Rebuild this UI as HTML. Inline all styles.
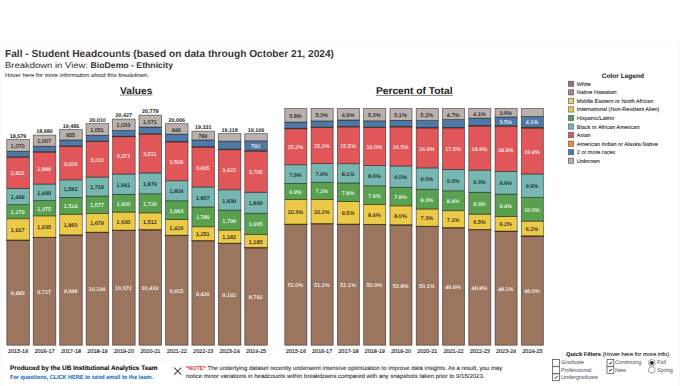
<!DOCTYPE html>
<html><head><meta charset="utf-8"><title>Fall - Student Headcounts</title>
<style>html,body{margin:0;padding:0;background:#fff;width:680px;height:386px;overflow:hidden}
svg text{font-family:"Liberation Sans", sans-serif;text-rendering:geometricPrecision}</style></head>
<body>
<svg width="680" height="386" viewBox="0 0 680 386" style="display:block">
<rect width="680" height="386" fill="#fff"/>
<path d="M0.5 386V42.5H679.5V386" fill="none" stroke="#f9f9f9" stroke-width="1"/>
<path d="M4.5 386V360.5H165" fill="none" stroke="#fafafa" stroke-width="1"/>
<text x="5.00" y="57.00" font-size="10.2" fill="#383838" font-weight="bold" text-anchor="start" textLength="329.00" lengthAdjust="spacingAndGlyphs">Fall - Student Headcounts (based on data through October 21, 2024)</text>
<text x="5.00" y="68.10" font-size="8.2" fill="#3a3a3a" font-weight="normal" text-anchor="start" textLength="83.00" lengthAdjust="spacingAndGlyphs" stroke="#3a3a3a" stroke-width="0.05">Breakdown in View:</text>
<text x="90.60" y="68.10" font-size="8.4" fill="#333" font-weight="bold" text-anchor="start" textLength="82.40" lengthAdjust="spacingAndGlyphs">BioDemo - Ethnicity</text>
<text x="5.00" y="77.00" font-size="5.6" fill="#3c3c3c" font-weight="normal" text-anchor="start" textLength="144.00" lengthAdjust="spacingAndGlyphs" stroke="#3c3c3c" stroke-width="0.08">Hover here for more information about this breakdown.</text>
<text x="120.10" y="93.70" font-size="10" fill="#222" font-weight="bold" text-anchor="start" textLength="32.30" lengthAdjust="spacingAndGlyphs">Values</text>
<rect x="120" y="94.6" width="32.5" height="0.9" fill="#777"/>
<text x="375.90" y="93.90" font-size="10" fill="#222" font-weight="bold" text-anchor="start" textLength="76.70" lengthAdjust="spacingAndGlyphs">Percent of Total</text>
<rect x="375.8" y="94.9" width="77" height="0.9" fill="#777"/>
<rect x="6.80" y="240.20" width="22.6" height="105.00" fill="#9C755F" stroke="rgba(20,20,20,0.62)" stroke-width="0.75"/>
<rect x="6.80" y="240.12" width="22.6" height="0.09" fill="#B07AA1" stroke="rgba(20,20,20,0.62)" stroke-width="0.75"/>
<rect x="6.80" y="239.98" width="22.6" height="0.13" fill="#F1CE63" stroke="rgba(20,20,20,0.62)" stroke-width="0.75"/>
<rect x="6.80" y="218.76" width="22.6" height="21.23" fill="#EDC948" stroke="rgba(20,20,20,0.62)" stroke-width="0.75"/>
<rect x="6.80" y="204.66" width="22.6" height="14.09" fill="#59A14F" stroke="rgba(20,20,20,0.62)" stroke-width="0.75"/>
<rect x="6.80" y="188.40" width="22.6" height="16.26" fill="#76B7B2" stroke="rgba(20,20,20,0.62)" stroke-width="0.75"/>
<rect x="6.80" y="157.16" width="22.6" height="31.23" fill="#E15759" stroke="rgba(20,20,20,0.62)" stroke-width="0.75"/>
<rect x="6.80" y="156.78" width="22.6" height="0.39" fill="#F28E2B" stroke="rgba(20,20,20,0.62)" stroke-width="0.75"/>
<rect x="6.80" y="151.34" width="22.6" height="5.44" fill="#4E79A7" stroke="rgba(20,20,20,0.62)" stroke-width="0.75"/>
<rect x="6.80" y="139.49" width="22.6" height="11.85" fill="#BAB0AC" stroke="rgba(20,20,20,0.62)" stroke-width="0.75"/>
<text x="17.70" y="295.30" font-size="5.5" fill="#fff" font-weight="normal" text-anchor="middle" stroke="#fff" stroke-width="0.06">9,483</text>
<text x="17.70" y="231.97" font-size="5.5" fill="#1a1a1a" font-weight="normal" text-anchor="middle" stroke="#1a1a1a" stroke-width="0.1">1,917</text>
<text x="17.70" y="214.31" font-size="5.5" fill="#fff" font-weight="normal" text-anchor="middle" stroke="#fff" stroke-width="0.06">1,273</text>
<text x="17.70" y="199.13" font-size="5.5" fill="#1a1a1a" font-weight="normal" text-anchor="middle" stroke="#1a1a1a" stroke-width="0.1">1,469</text>
<text x="17.70" y="175.38" font-size="5.5" fill="#fff" font-weight="normal" text-anchor="middle" stroke="#fff" stroke-width="0.06">2,821</text>
<text x="17.70" y="148.02" font-size="5.5" fill="#1a1a1a" font-weight="normal" text-anchor="middle" stroke="#1a1a1a" stroke-width="0.1">1,070</text>
<text x="18.10" y="137.69" font-size="5.4" fill="#222" font-weight="bold" text-anchor="middle">18,579</text>
<text x="18.10" y="353.20" font-size="5.5" fill="#222" font-weight="normal" text-anchor="middle" stroke="#222" stroke-width="0.15">2015-16</text>
<rect x="33.24" y="237.50" width="22.6" height="107.70" fill="#9C755F" stroke="rgba(20,20,20,0.62)" stroke-width="0.75"/>
<rect x="33.24" y="237.41" width="22.6" height="0.09" fill="#B07AA1" stroke="rgba(20,20,20,0.62)" stroke-width="0.75"/>
<rect x="33.24" y="237.28" width="22.6" height="0.13" fill="#F1CE63" stroke="rgba(20,20,20,0.62)" stroke-width="0.75"/>
<rect x="33.24" y="215.86" width="22.6" height="21.42" fill="#EDC948" stroke="rgba(20,20,20,0.62)" stroke-width="0.75"/>
<rect x="33.24" y="200.63" width="22.6" height="15.22" fill="#59A14F" stroke="rgba(20,20,20,0.62)" stroke-width="0.75"/>
<rect x="33.24" y="184.04" width="22.6" height="16.60" fill="#76B7B2" stroke="rgba(20,20,20,0.62)" stroke-width="0.75"/>
<rect x="33.24" y="152.06" width="22.6" height="31.98" fill="#E15759" stroke="rgba(20,20,20,0.62)" stroke-width="0.75"/>
<rect x="33.24" y="151.67" width="22.6" height="0.39" fill="#F28E2B" stroke="rgba(20,20,20,0.62)" stroke-width="0.75"/>
<rect x="33.24" y="146.20" width="22.6" height="5.47" fill="#4E79A7" stroke="rgba(20,20,20,0.62)" stroke-width="0.75"/>
<rect x="33.24" y="135.05" width="22.6" height="11.15" fill="#BAB0AC" stroke="rgba(20,20,20,0.62)" stroke-width="0.75"/>
<text x="44.14" y="293.95" font-size="5.5" fill="#fff" font-weight="normal" text-anchor="middle" stroke="#fff" stroke-width="0.06">9,727</text>
<text x="44.14" y="229.17" font-size="5.5" fill="#1a1a1a" font-weight="normal" text-anchor="middle" stroke="#1a1a1a" stroke-width="0.1">1,935</text>
<text x="44.14" y="210.84" font-size="5.5" fill="#fff" font-weight="normal" text-anchor="middle" stroke="#fff" stroke-width="0.06">1,375</text>
<text x="44.14" y="194.93" font-size="5.5" fill="#1a1a1a" font-weight="normal" text-anchor="middle" stroke="#1a1a1a" stroke-width="0.1">1,499</text>
<text x="44.14" y="170.65" font-size="5.5" fill="#fff" font-weight="normal" text-anchor="middle" stroke="#fff" stroke-width="0.06">2,888</text>
<text x="44.14" y="143.23" font-size="5.5" fill="#1a1a1a" font-weight="normal" text-anchor="middle" stroke="#1a1a1a" stroke-width="0.1">1,007</text>
<text x="44.54" y="133.25" font-size="5.4" fill="#222" font-weight="bold" text-anchor="middle">18,980</text>
<text x="44.54" y="353.20" font-size="5.5" fill="#222" font-weight="normal" text-anchor="middle" stroke="#222" stroke-width="0.15">2016-17</text>
<rect x="59.68" y="235.06" width="22.6" height="110.14" fill="#9C755F" stroke="rgba(20,20,20,0.62)" stroke-width="0.75"/>
<rect x="59.68" y="234.97" width="22.6" height="0.09" fill="#B07AA1" stroke="rgba(20,20,20,0.62)" stroke-width="0.75"/>
<rect x="59.68" y="234.83" width="22.6" height="0.13" fill="#F1CE63" stroke="rgba(20,20,20,0.62)" stroke-width="0.75"/>
<rect x="59.68" y="214.24" width="22.6" height="20.59" fill="#EDC948" stroke="rgba(20,20,20,0.62)" stroke-width="0.75"/>
<rect x="59.68" y="197.37" width="22.6" height="16.87" fill="#59A14F" stroke="rgba(20,20,20,0.62)" stroke-width="0.75"/>
<rect x="59.68" y="179.85" width="22.6" height="17.52" fill="#76B7B2" stroke="rgba(20,20,20,0.62)" stroke-width="0.75"/>
<rect x="59.68" y="146.31" width="22.6" height="33.54" fill="#E15759" stroke="rgba(20,20,20,0.62)" stroke-width="0.75"/>
<rect x="59.68" y="145.93" width="22.6" height="0.39" fill="#F28E2B" stroke="rgba(20,20,20,0.62)" stroke-width="0.75"/>
<rect x="59.68" y="140.04" width="22.6" height="5.89" fill="#4E79A7" stroke="rgba(20,20,20,0.62)" stroke-width="0.75"/>
<rect x="59.68" y="129.46" width="22.6" height="10.57" fill="#BAB0AC" stroke="rgba(20,20,20,0.62)" stroke-width="0.75"/>
<text x="70.58" y="292.73" font-size="5.5" fill="#fff" font-weight="normal" text-anchor="middle" stroke="#fff" stroke-width="0.06">9,948</text>
<text x="70.58" y="227.14" font-size="5.5" fill="#1a1a1a" font-weight="normal" text-anchor="middle" stroke="#1a1a1a" stroke-width="0.1">1,860</text>
<text x="70.58" y="208.40" font-size="5.5" fill="#fff" font-weight="normal" text-anchor="middle" stroke="#fff" stroke-width="0.06">1,524</text>
<text x="70.58" y="191.21" font-size="5.5" fill="#1a1a1a" font-weight="normal" text-anchor="middle" stroke="#1a1a1a" stroke-width="0.1">1,582</text>
<text x="70.58" y="165.68" font-size="5.5" fill="#fff" font-weight="normal" text-anchor="middle" stroke="#fff" stroke-width="0.06">3,029</text>
<text x="70.58" y="137.35" font-size="5.5" fill="#1a1a1a" font-weight="normal" text-anchor="middle" stroke="#1a1a1a" stroke-width="0.1">955</text>
<text x="70.98" y="127.66" font-size="5.4" fill="#222" font-weight="bold" text-anchor="middle">19,485</text>
<text x="70.98" y="353.20" font-size="5.5" fill="#222" font-weight="normal" text-anchor="middle" stroke="#222" stroke-width="0.15">2017-18</text>
<rect x="86.12" y="232.33" width="22.6" height="112.87" fill="#9C755F" stroke="rgba(20,20,20,0.62)" stroke-width="0.75"/>
<rect x="86.12" y="232.24" width="22.6" height="0.09" fill="#B07AA1" stroke="rgba(20,20,20,0.62)" stroke-width="0.75"/>
<rect x="86.12" y="232.11" width="22.6" height="0.13" fill="#F1CE63" stroke="rgba(20,20,20,0.62)" stroke-width="0.75"/>
<rect x="86.12" y="213.52" width="22.6" height="18.59" fill="#EDC948" stroke="rgba(20,20,20,0.62)" stroke-width="0.75"/>
<rect x="86.12" y="196.06" width="22.6" height="17.46" fill="#59A14F" stroke="rgba(20,20,20,0.62)" stroke-width="0.75"/>
<rect x="86.12" y="177.04" width="22.6" height="19.02" fill="#76B7B2" stroke="rgba(20,20,20,0.62)" stroke-width="0.75"/>
<rect x="86.12" y="141.50" width="22.6" height="35.54" fill="#E15759" stroke="rgba(20,20,20,0.62)" stroke-width="0.75"/>
<rect x="86.12" y="141.11" width="22.6" height="0.39" fill="#F28E2B" stroke="rgba(20,20,20,0.62)" stroke-width="0.75"/>
<rect x="86.12" y="135.29" width="22.6" height="5.82" fill="#4E79A7" stroke="rgba(20,20,20,0.62)" stroke-width="0.75"/>
<rect x="86.12" y="123.65" width="22.6" height="11.64" fill="#BAB0AC" stroke="rgba(20,20,20,0.62)" stroke-width="0.75"/>
<text x="97.02" y="291.37" font-size="5.5" fill="#fff" font-weight="normal" text-anchor="middle" stroke="#fff" stroke-width="0.06">10,194</text>
<text x="97.02" y="225.42" font-size="5.5" fill="#1a1a1a" font-weight="normal" text-anchor="middle" stroke="#1a1a1a" stroke-width="0.1">1,679</text>
<text x="97.02" y="207.39" font-size="5.5" fill="#fff" font-weight="normal" text-anchor="middle" stroke="#fff" stroke-width="0.06">1,577</text>
<text x="97.02" y="189.15" font-size="5.5" fill="#1a1a1a" font-weight="normal" text-anchor="middle" stroke="#1a1a1a" stroke-width="0.1">1,718</text>
<text x="97.02" y="161.87" font-size="5.5" fill="#fff" font-weight="normal" text-anchor="middle" stroke="#fff" stroke-width="0.06">3,210</text>
<text x="97.02" y="132.07" font-size="5.5" fill="#1a1a1a" font-weight="normal" text-anchor="middle" stroke="#1a1a1a" stroke-width="0.1">1,051</text>
<text x="97.42" y="121.85" font-size="5.4" fill="#222" font-weight="bold" text-anchor="middle">20,010</text>
<text x="97.42" y="353.20" font-size="5.5" fill="#222" font-weight="normal" text-anchor="middle" stroke="#222" stroke-width="0.15">2018-19</text>
<rect x="112.56" y="230.36" width="22.6" height="114.84" fill="#9C755F" stroke="rgba(20,20,20,0.62)" stroke-width="0.75"/>
<rect x="112.56" y="230.27" width="22.6" height="0.09" fill="#B07AA1" stroke="rgba(20,20,20,0.62)" stroke-width="0.75"/>
<rect x="112.56" y="230.14" width="22.6" height="0.13" fill="#F1CE63" stroke="rgba(20,20,20,0.62)" stroke-width="0.75"/>
<rect x="112.56" y="212.09" width="22.6" height="18.05" fill="#EDC948" stroke="rgba(20,20,20,0.62)" stroke-width="0.75"/>
<rect x="112.56" y="194.38" width="22.6" height="17.72" fill="#59A14F" stroke="rgba(20,20,20,0.62)" stroke-width="0.75"/>
<rect x="112.56" y="173.99" width="22.6" height="20.38" fill="#76B7B2" stroke="rgba(20,20,20,0.62)" stroke-width="0.75"/>
<rect x="112.56" y="136.67" width="22.6" height="37.32" fill="#E15759" stroke="rgba(20,20,20,0.62)" stroke-width="0.75"/>
<rect x="112.56" y="136.28" width="22.6" height="0.39" fill="#F28E2B" stroke="rgba(20,20,20,0.62)" stroke-width="0.75"/>
<rect x="112.56" y="130.47" width="22.6" height="5.81" fill="#4E79A7" stroke="rgba(20,20,20,0.62)" stroke-width="0.75"/>
<rect x="112.56" y="119.03" width="22.6" height="11.44" fill="#BAB0AC" stroke="rgba(20,20,20,0.62)" stroke-width="0.75"/>
<text x="123.46" y="290.38" font-size="5.5" fill="#fff" font-weight="normal" text-anchor="middle" stroke="#fff" stroke-width="0.06">10,372</text>
<text x="123.46" y="223.72" font-size="5.5" fill="#1a1a1a" font-weight="normal" text-anchor="middle" stroke="#1a1a1a" stroke-width="0.1">1,630</text>
<text x="123.46" y="205.83" font-size="5.5" fill="#fff" font-weight="normal" text-anchor="middle" stroke="#fff" stroke-width="0.06">1,600</text>
<text x="123.46" y="186.79" font-size="5.5" fill="#1a1a1a" font-weight="normal" text-anchor="middle" stroke="#1a1a1a" stroke-width="0.1">1,841</text>
<text x="123.46" y="157.93" font-size="5.5" fill="#fff" font-weight="normal" text-anchor="middle" stroke="#fff" stroke-width="0.06">3,371</text>
<text x="123.46" y="127.35" font-size="5.5" fill="#1a1a1a" font-weight="normal" text-anchor="middle" stroke="#1a1a1a" stroke-width="0.1">1,033</text>
<text x="123.86" y="117.23" font-size="5.4" fill="#222" font-weight="bold" text-anchor="middle">20,427</text>
<text x="123.86" y="353.20" font-size="5.5" fill="#222" font-weight="normal" text-anchor="middle" stroke="#222" stroke-width="0.15">2019-20</text>
<rect x="139.00" y="229.84" width="22.6" height="115.36" fill="#9C755F" stroke="rgba(20,20,20,0.62)" stroke-width="0.75"/>
<rect x="139.00" y="229.75" width="22.6" height="0.09" fill="#B07AA1" stroke="rgba(20,20,20,0.62)" stroke-width="0.75"/>
<rect x="139.00" y="229.62" width="22.6" height="0.13" fill="#F1CE63" stroke="rgba(20,20,20,0.62)" stroke-width="0.75"/>
<rect x="139.00" y="212.88" width="22.6" height="16.74" fill="#EDC948" stroke="rgba(20,20,20,0.62)" stroke-width="0.75"/>
<rect x="139.00" y="193.77" width="22.6" height="19.11" fill="#59A14F" stroke="rgba(20,20,20,0.62)" stroke-width="0.75"/>
<rect x="139.00" y="172.96" width="22.6" height="20.80" fill="#76B7B2" stroke="rgba(20,20,20,0.62)" stroke-width="0.75"/>
<rect x="139.00" y="134.09" width="22.6" height="38.87" fill="#E15759" stroke="rgba(20,20,20,0.62)" stroke-width="0.75"/>
<rect x="139.00" y="133.70" width="22.6" height="0.39" fill="#F28E2B" stroke="rgba(20,20,20,0.62)" stroke-width="0.75"/>
<rect x="139.00" y="127.00" width="22.6" height="6.70" fill="#4E79A7" stroke="rgba(20,20,20,0.62)" stroke-width="0.75"/>
<rect x="139.00" y="115.15" width="22.6" height="11.86" fill="#BAB0AC" stroke="rgba(20,20,20,0.62)" stroke-width="0.75"/>
<text x="149.90" y="290.12" font-size="5.5" fill="#fff" font-weight="normal" text-anchor="middle" stroke="#fff" stroke-width="0.06">10,419</text>
<text x="149.90" y="223.85" font-size="5.5" fill="#1a1a1a" font-weight="normal" text-anchor="middle" stroke="#1a1a1a" stroke-width="0.1">1,512</text>
<text x="149.90" y="205.92" font-size="5.5" fill="#fff" font-weight="normal" text-anchor="middle" stroke="#fff" stroke-width="0.06">1,726</text>
<text x="149.90" y="185.97" font-size="5.5" fill="#1a1a1a" font-weight="normal" text-anchor="middle" stroke="#1a1a1a" stroke-width="0.1">1,879</text>
<text x="149.90" y="156.13" font-size="5.5" fill="#fff" font-weight="normal" text-anchor="middle" stroke="#fff" stroke-width="0.06">3,511</text>
<text x="149.90" y="123.68" font-size="5.5" fill="#1a1a1a" font-weight="normal" text-anchor="middle" stroke="#1a1a1a" stroke-width="0.1">1,071</text>
<text x="150.30" y="113.35" font-size="5.4" fill="#222" font-weight="bold" text-anchor="middle">20,778</text>
<text x="150.30" y="353.20" font-size="5.5" fill="#222" font-weight="normal" text-anchor="middle" stroke="#222" stroke-width="0.15">2020-21</text>
<rect x="165.44" y="235.42" width="22.6" height="109.78" fill="#9C755F" stroke="rgba(20,20,20,0.62)" stroke-width="0.75"/>
<rect x="165.44" y="235.33" width="22.6" height="0.09" fill="#B07AA1" stroke="rgba(20,20,20,0.62)" stroke-width="0.75"/>
<rect x="165.44" y="235.20" width="22.6" height="0.13" fill="#F1CE63" stroke="rgba(20,20,20,0.62)" stroke-width="0.75"/>
<rect x="165.44" y="219.41" width="22.6" height="15.79" fill="#EDC948" stroke="rgba(20,20,20,0.62)" stroke-width="0.75"/>
<rect x="165.44" y="200.78" width="22.6" height="18.63" fill="#59A14F" stroke="rgba(20,20,20,0.62)" stroke-width="0.75"/>
<rect x="165.44" y="180.75" width="22.6" height="20.03" fill="#76B7B2" stroke="rgba(20,20,20,0.62)" stroke-width="0.75"/>
<rect x="165.44" y="141.91" width="22.6" height="38.84" fill="#E15759" stroke="rgba(20,20,20,0.62)" stroke-width="0.75"/>
<rect x="165.44" y="141.52" width="22.6" height="0.39" fill="#F28E2B" stroke="rgba(20,20,20,0.62)" stroke-width="0.75"/>
<rect x="165.44" y="134.17" width="22.6" height="7.35" fill="#4E79A7" stroke="rgba(20,20,20,0.62)" stroke-width="0.75"/>
<rect x="165.44" y="123.69" width="22.6" height="10.47" fill="#BAB0AC" stroke="rgba(20,20,20,0.62)" stroke-width="0.75"/>
<text x="176.34" y="292.91" font-size="5.5" fill="#fff" font-weight="normal" text-anchor="middle" stroke="#fff" stroke-width="0.06">9,915</text>
<text x="176.34" y="229.91" font-size="5.5" fill="#1a1a1a" font-weight="normal" text-anchor="middle" stroke="#1a1a1a" stroke-width="0.1">1,426</text>
<text x="176.34" y="212.69" font-size="5.5" fill="#fff" font-weight="normal" text-anchor="middle" stroke="#fff" stroke-width="0.06">1,683</text>
<text x="176.34" y="193.36" font-size="5.5" fill="#1a1a1a" font-weight="normal" text-anchor="middle" stroke="#1a1a1a" stroke-width="0.1">1,809</text>
<text x="176.34" y="163.93" font-size="5.5" fill="#fff" font-weight="normal" text-anchor="middle" stroke="#fff" stroke-width="0.06">3,508</text>
<text x="176.34" y="131.53" font-size="5.5" fill="#1a1a1a" font-weight="normal" text-anchor="middle" stroke="#1a1a1a" stroke-width="0.1">946</text>
<text x="176.74" y="121.89" font-size="5.4" fill="#222" font-weight="bold" text-anchor="middle">20,006</text>
<text x="176.74" y="353.20" font-size="5.5" fill="#222" font-weight="normal" text-anchor="middle" stroke="#222" stroke-width="0.15">2021-22</text>
<rect x="191.88" y="240.84" width="22.6" height="104.36" fill="#9C755F" stroke="rgba(20,20,20,0.62)" stroke-width="0.75"/>
<rect x="191.88" y="240.75" width="22.6" height="0.09" fill="#B07AA1" stroke="rgba(20,20,20,0.62)" stroke-width="0.75"/>
<rect x="191.88" y="240.61" width="22.6" height="0.13" fill="#F1CE63" stroke="rgba(20,20,20,0.62)" stroke-width="0.75"/>
<rect x="191.88" y="226.76" width="22.6" height="13.85" fill="#EDC948" stroke="rgba(20,20,20,0.62)" stroke-width="0.75"/>
<rect x="191.88" y="206.96" width="22.6" height="19.81" fill="#59A14F" stroke="rgba(20,20,20,0.62)" stroke-width="0.75"/>
<rect x="191.88" y="186.95" width="22.6" height="20.01" fill="#76B7B2" stroke="rgba(20,20,20,0.62)" stroke-width="0.75"/>
<rect x="191.88" y="147.03" width="22.6" height="39.91" fill="#E15759" stroke="rgba(20,20,20,0.62)" stroke-width="0.75"/>
<rect x="191.88" y="146.65" width="22.6" height="0.39" fill="#F28E2B" stroke="rgba(20,20,20,0.62)" stroke-width="0.75"/>
<rect x="191.88" y="139.90" width="22.6" height="6.74" fill="#4E79A7" stroke="rgba(20,20,20,0.62)" stroke-width="0.75"/>
<rect x="191.88" y="131.17" width="22.6" height="8.74" fill="#BAB0AC" stroke="rgba(20,20,20,0.62)" stroke-width="0.75"/>
<text x="202.78" y="295.62" font-size="5.5" fill="#fff" font-weight="normal" text-anchor="middle" stroke="#fff" stroke-width="0.06">9,426</text>
<text x="202.78" y="236.29" font-size="5.5" fill="#1a1a1a" font-weight="normal" text-anchor="middle" stroke="#1a1a1a" stroke-width="0.1">1,251</text>
<text x="202.78" y="219.46" font-size="5.5" fill="#fff" font-weight="normal" text-anchor="middle" stroke="#fff" stroke-width="0.06">1,789</text>
<text x="202.78" y="199.55" font-size="5.5" fill="#1a1a1a" font-weight="normal" text-anchor="middle" stroke="#1a1a1a" stroke-width="0.1">1,807</text>
<text x="202.78" y="169.59" font-size="5.5" fill="#fff" font-weight="normal" text-anchor="middle" stroke="#fff" stroke-width="0.06">3,605</text>
<text x="202.78" y="138.14" font-size="5.5" fill="#1a1a1a" font-weight="normal" text-anchor="middle" stroke="#1a1a1a" stroke-width="0.1">789</text>
<text x="203.18" y="129.37" font-size="5.4" fill="#222" font-weight="bold" text-anchor="middle">19,331</text>
<text x="203.18" y="353.20" font-size="5.5" fill="#222" font-weight="normal" text-anchor="middle" stroke="#222" stroke-width="0.15">2022-23</text>
<rect x="218.32" y="243.43" width="22.6" height="101.77" fill="#9C755F" stroke="rgba(20,20,20,0.62)" stroke-width="0.75"/>
<rect x="218.32" y="243.31" width="22.6" height="0.11" fill="#B07AA1" stroke="rgba(20,20,20,0.62)" stroke-width="0.75"/>
<rect x="218.32" y="243.14" width="22.6" height="0.17" fill="#F1CE63" stroke="rgba(20,20,20,0.62)" stroke-width="0.75"/>
<rect x="218.32" y="230.06" width="22.6" height="13.09" fill="#EDC948" stroke="rgba(20,20,20,0.62)" stroke-width="0.75"/>
<rect x="218.32" y="210.14" width="22.6" height="19.92" fill="#59A14F" stroke="rgba(20,20,20,0.62)" stroke-width="0.75"/>
<rect x="218.32" y="189.78" width="22.6" height="20.36" fill="#76B7B2" stroke="rgba(20,20,20,0.62)" stroke-width="0.75"/>
<rect x="218.32" y="149.68" width="22.6" height="40.10" fill="#E15759" stroke="rgba(20,20,20,0.62)" stroke-width="0.75"/>
<rect x="218.32" y="149.18" width="22.6" height="0.49" fill="#F28E2B" stroke="rgba(20,20,20,0.62)" stroke-width="0.75"/>
<rect x="218.32" y="141.14" width="22.6" height="8.04" fill="#4E79A7" stroke="rgba(20,20,20,0.62)" stroke-width="0.75"/>
<rect x="218.32" y="133.53" width="22.6" height="7.62" fill="#BAB0AC" stroke="rgba(20,20,20,0.62)" stroke-width="0.75"/>
<text x="229.22" y="296.91" font-size="5.5" fill="#fff" font-weight="normal" text-anchor="middle" stroke="#fff" stroke-width="0.06">9,192</text>
<text x="229.22" y="239.20" font-size="5.5" fill="#1a1a1a" font-weight="normal" text-anchor="middle" stroke="#1a1a1a" stroke-width="0.1">1,182</text>
<text x="229.22" y="222.70" font-size="5.5" fill="#fff" font-weight="normal" text-anchor="middle" stroke="#fff" stroke-width="0.06">1,799</text>
<text x="229.22" y="202.56" font-size="5.5" fill="#1a1a1a" font-weight="normal" text-anchor="middle" stroke="#1a1a1a" stroke-width="0.1">1,839</text>
<text x="229.22" y="172.33" font-size="5.5" fill="#fff" font-weight="normal" text-anchor="middle" stroke="#fff" stroke-width="0.06">3,622</text>
<text x="229.62" y="131.73" font-size="5.4" fill="#222" font-weight="bold" text-anchor="middle">19,118</text>
<text x="229.62" y="353.20" font-size="5.5" fill="#222" font-weight="normal" text-anchor="middle" stroke="#222" stroke-width="0.15">2023-24</text>
<rect x="244.76" y="247.85" width="22.6" height="97.35" fill="#9C755F" stroke="rgba(20,20,20,0.62)" stroke-width="0.75"/>
<rect x="244.76" y="247.70" width="22.6" height="0.16" fill="#B07AA1" stroke="rgba(20,20,20,0.62)" stroke-width="0.75"/>
<rect x="244.76" y="247.46" width="22.6" height="0.24" fill="#F1CE63" stroke="rgba(20,20,20,0.62)" stroke-width="0.75"/>
<rect x="244.76" y="234.34" width="22.6" height="13.12" fill="#EDC948" stroke="rgba(20,20,20,0.62)" stroke-width="0.75"/>
<rect x="244.76" y="213.25" width="22.6" height="21.09" fill="#59A14F" stroke="rgba(20,20,20,0.62)" stroke-width="0.75"/>
<rect x="244.76" y="192.22" width="22.6" height="21.03" fill="#76B7B2" stroke="rgba(20,20,20,0.62)" stroke-width="0.75"/>
<rect x="244.76" y="151.20" width="22.6" height="41.02" fill="#E15759" stroke="rgba(20,20,20,0.62)" stroke-width="0.75"/>
<rect x="244.76" y="150.51" width="22.6" height="0.69" fill="#F28E2B" stroke="rgba(20,20,20,0.62)" stroke-width="0.75"/>
<rect x="244.76" y="140.86" width="22.6" height="9.66" fill="#4E79A7" stroke="rgba(20,20,20,0.62)" stroke-width="0.75"/>
<rect x="244.76" y="133.66" width="22.6" height="7.20" fill="#BAB0AC" stroke="rgba(20,20,20,0.62)" stroke-width="0.75"/>
<text x="255.66" y="299.13" font-size="5.5" fill="#fff" font-weight="normal" text-anchor="middle" stroke="#fff" stroke-width="0.06">8,792</text>
<text x="255.66" y="243.50" font-size="5.5" fill="#1a1a1a" font-weight="normal" text-anchor="middle" stroke="#1a1a1a" stroke-width="0.1">1,185</text>
<text x="255.66" y="226.39" font-size="5.5" fill="#fff" font-weight="normal" text-anchor="middle" stroke="#fff" stroke-width="0.06">1,905</text>
<text x="255.66" y="205.34" font-size="5.5" fill="#1a1a1a" font-weight="normal" text-anchor="middle" stroke="#1a1a1a" stroke-width="0.1">1,899</text>
<text x="255.66" y="174.31" font-size="5.5" fill="#fff" font-weight="normal" text-anchor="middle" stroke="#fff" stroke-width="0.06">3,705</text>
<text x="255.66" y="148.28" font-size="5.5" fill="#fff" font-weight="normal" text-anchor="middle" stroke="#fff" stroke-width="0.06">792</text>
<text x="256.06" y="131.86" font-size="5.4" fill="#222" font-weight="bold" text-anchor="middle">19,106</text>
<text x="256.06" y="353.20" font-size="5.5" fill="#222" font-weight="normal" text-anchor="middle" stroke="#222" stroke-width="0.15">2024-25</text>
<rect x="284.80" y="224.33" width="22.1" height="120.87" fill="#9C755F" stroke="rgba(20,20,20,0.62)" stroke-width="0.75"/>
<rect x="284.80" y="224.23" width="22.1" height="0.10" fill="#B07AA1" stroke="rgba(20,20,20,0.62)" stroke-width="0.75"/>
<rect x="284.80" y="224.08" width="22.1" height="0.15" fill="#F1CE63" stroke="rgba(20,20,20,0.62)" stroke-width="0.75"/>
<rect x="284.80" y="199.65" width="22.1" height="24.43" fill="#EDC948" stroke="rgba(20,20,20,0.62)" stroke-width="0.75"/>
<rect x="284.80" y="183.42" width="22.1" height="16.23" fill="#59A14F" stroke="rgba(20,20,20,0.62)" stroke-width="0.75"/>
<rect x="284.80" y="164.70" width="22.1" height="18.72" fill="#76B7B2" stroke="rgba(20,20,20,0.62)" stroke-width="0.75"/>
<rect x="284.80" y="128.74" width="22.1" height="35.96" fill="#E15759" stroke="rgba(20,20,20,0.62)" stroke-width="0.75"/>
<rect x="284.80" y="128.30" width="22.1" height="0.45" fill="#F28E2B" stroke="rgba(20,20,20,0.62)" stroke-width="0.75"/>
<rect x="284.80" y="122.04" width="22.1" height="6.26" fill="#4E79A7" stroke="rgba(20,20,20,0.62)" stroke-width="0.75"/>
<rect x="284.80" y="108.40" width="22.1" height="13.64" fill="#BAB0AC" stroke="rgba(20,20,20,0.62)" stroke-width="0.75"/>
<text x="295.45" y="287.37" font-size="5.5" fill="#fff" font-weight="normal" text-anchor="middle" stroke="#fff" stroke-width="0.06">51.0%</text>
<text x="295.45" y="214.46" font-size="5.5" fill="#1a1a1a" font-weight="normal" text-anchor="middle" stroke="#1a1a1a" stroke-width="0.1">10.3%</text>
<text x="295.45" y="194.13" font-size="5.5" fill="#fff" font-weight="normal" text-anchor="middle" stroke="#fff" stroke-width="0.06">6.9%</text>
<text x="295.45" y="176.66" font-size="5.5" fill="#1a1a1a" font-weight="normal" text-anchor="middle" stroke="#1a1a1a" stroke-width="0.1">7.9%</text>
<text x="295.45" y="149.32" font-size="5.5" fill="#fff" font-weight="normal" text-anchor="middle" stroke="#fff" stroke-width="0.06">15.2%</text>
<text x="295.45" y="117.82" font-size="5.5" fill="#1a1a1a" font-weight="normal" text-anchor="middle" stroke="#1a1a1a" stroke-width="0.1">5.8%</text>
<text x="295.85" y="353.20" font-size="5.5" fill="#222" font-weight="normal" text-anchor="middle" stroke="#222" stroke-width="0.15">2015-16</text>
<rect x="311.08" y="223.84" width="22.1" height="121.36" fill="#9C755F" stroke="rgba(20,20,20,0.62)" stroke-width="0.75"/>
<rect x="311.08" y="223.74" width="22.1" height="0.10" fill="#B07AA1" stroke="rgba(20,20,20,0.62)" stroke-width="0.75"/>
<rect x="311.08" y="223.59" width="22.1" height="0.15" fill="#F1CE63" stroke="rgba(20,20,20,0.62)" stroke-width="0.75"/>
<rect x="311.08" y="199.45" width="22.1" height="24.14" fill="#EDC948" stroke="rgba(20,20,20,0.62)" stroke-width="0.75"/>
<rect x="311.08" y="182.30" width="22.1" height="17.15" fill="#59A14F" stroke="rgba(20,20,20,0.62)" stroke-width="0.75"/>
<rect x="311.08" y="163.60" width="22.1" height="18.70" fill="#76B7B2" stroke="rgba(20,20,20,0.62)" stroke-width="0.75"/>
<rect x="311.08" y="127.56" width="22.1" height="36.03" fill="#E15759" stroke="rgba(20,20,20,0.62)" stroke-width="0.75"/>
<rect x="311.08" y="127.13" width="22.1" height="0.44" fill="#F28E2B" stroke="rgba(20,20,20,0.62)" stroke-width="0.75"/>
<rect x="311.08" y="120.96" width="22.1" height="6.16" fill="#4E79A7" stroke="rgba(20,20,20,0.62)" stroke-width="0.75"/>
<rect x="311.08" y="108.40" width="22.1" height="12.56" fill="#BAB0AC" stroke="rgba(20,20,20,0.62)" stroke-width="0.75"/>
<text x="321.73" y="287.12" font-size="5.5" fill="#fff" font-weight="normal" text-anchor="middle" stroke="#fff" stroke-width="0.06">51.2%</text>
<text x="321.73" y="214.12" font-size="5.5" fill="#1a1a1a" font-weight="normal" text-anchor="middle" stroke="#1a1a1a" stroke-width="0.1">10.2%</text>
<text x="321.73" y="193.47" font-size="5.5" fill="#fff" font-weight="normal" text-anchor="middle" stroke="#fff" stroke-width="0.06">7.2%</text>
<text x="321.73" y="175.55" font-size="5.5" fill="#1a1a1a" font-weight="normal" text-anchor="middle" stroke="#1a1a1a" stroke-width="0.1">7.9%</text>
<text x="321.73" y="148.18" font-size="5.5" fill="#fff" font-weight="normal" text-anchor="middle" stroke="#fff" stroke-width="0.06">15.2%</text>
<text x="321.73" y="117.28" font-size="5.5" fill="#1a1a1a" font-weight="normal" text-anchor="middle" stroke="#1a1a1a" stroke-width="0.1">5.3%</text>
<text x="322.13" y="353.20" font-size="5.5" fill="#222" font-weight="normal" text-anchor="middle" stroke="#222" stroke-width="0.15">2016-17</text>
<rect x="337.36" y="224.30" width="22.1" height="120.90" fill="#9C755F" stroke="rgba(20,20,20,0.62)" stroke-width="0.75"/>
<rect x="337.36" y="224.21" width="22.1" height="0.10" fill="#B07AA1" stroke="rgba(20,20,20,0.62)" stroke-width="0.75"/>
<rect x="337.36" y="224.06" width="22.1" height="0.15" fill="#F1CE63" stroke="rgba(20,20,20,0.62)" stroke-width="0.75"/>
<rect x="337.36" y="201.46" width="22.1" height="22.60" fill="#EDC948" stroke="rgba(20,20,20,0.62)" stroke-width="0.75"/>
<rect x="337.36" y="182.93" width="22.1" height="18.52" fill="#59A14F" stroke="rgba(20,20,20,0.62)" stroke-width="0.75"/>
<rect x="337.36" y="163.71" width="22.1" height="19.23" fill="#76B7B2" stroke="rgba(20,20,20,0.62)" stroke-width="0.75"/>
<rect x="337.36" y="126.90" width="22.1" height="36.81" fill="#E15759" stroke="rgba(20,20,20,0.62)" stroke-width="0.75"/>
<rect x="337.36" y="126.47" width="22.1" height="0.43" fill="#F28E2B" stroke="rgba(20,20,20,0.62)" stroke-width="0.75"/>
<rect x="337.36" y="120.01" width="22.1" height="6.47" fill="#4E79A7" stroke="rgba(20,20,20,0.62)" stroke-width="0.75"/>
<rect x="337.36" y="108.40" width="22.1" height="11.61" fill="#BAB0AC" stroke="rgba(20,20,20,0.62)" stroke-width="0.75"/>
<text x="348.01" y="287.35" font-size="5.5" fill="#fff" font-weight="normal" text-anchor="middle" stroke="#fff" stroke-width="0.06">51.1%</text>
<text x="348.01" y="215.36" font-size="5.5" fill="#1a1a1a" font-weight="normal" text-anchor="middle" stroke="#1a1a1a" stroke-width="0.1">9.5%</text>
<text x="348.01" y="194.79" font-size="5.5" fill="#fff" font-weight="normal" text-anchor="middle" stroke="#fff" stroke-width="0.06">7.8%</text>
<text x="348.01" y="175.92" font-size="5.5" fill="#1a1a1a" font-weight="normal" text-anchor="middle" stroke="#1a1a1a" stroke-width="0.1">8.1%</text>
<text x="348.01" y="147.90" font-size="5.5" fill="#fff" font-weight="normal" text-anchor="middle" stroke="#fff" stroke-width="0.06">15.5%</text>
<text x="348.01" y="116.80" font-size="5.5" fill="#1a1a1a" font-weight="normal" text-anchor="middle" stroke="#1a1a1a" stroke-width="0.1">4.9%</text>
<text x="348.41" y="353.20" font-size="5.5" fill="#222" font-weight="normal" text-anchor="middle" stroke="#222" stroke-width="0.15">2017-18</text>
<rect x="363.64" y="224.56" width="22.1" height="120.64" fill="#9C755F" stroke="rgba(20,20,20,0.62)" stroke-width="0.75"/>
<rect x="363.64" y="224.47" width="22.1" height="0.09" fill="#B07AA1" stroke="rgba(20,20,20,0.62)" stroke-width="0.75"/>
<rect x="363.64" y="224.33" width="22.1" height="0.14" fill="#F1CE63" stroke="rgba(20,20,20,0.62)" stroke-width="0.75"/>
<rect x="363.64" y="204.46" width="22.1" height="19.87" fill="#EDC948" stroke="rgba(20,20,20,0.62)" stroke-width="0.75"/>
<rect x="363.64" y="185.79" width="22.1" height="18.66" fill="#59A14F" stroke="rgba(20,20,20,0.62)" stroke-width="0.75"/>
<rect x="363.64" y="165.46" width="22.1" height="20.33" fill="#76B7B2" stroke="rgba(20,20,20,0.62)" stroke-width="0.75"/>
<rect x="363.64" y="127.48" width="22.1" height="37.99" fill="#E15759" stroke="rgba(20,20,20,0.62)" stroke-width="0.75"/>
<rect x="363.64" y="127.06" width="22.1" height="0.41" fill="#F28E2B" stroke="rgba(20,20,20,0.62)" stroke-width="0.75"/>
<rect x="363.64" y="120.84" width="22.1" height="6.22" fill="#4E79A7" stroke="rgba(20,20,20,0.62)" stroke-width="0.75"/>
<rect x="363.64" y="108.40" width="22.1" height="12.44" fill="#BAB0AC" stroke="rgba(20,20,20,0.62)" stroke-width="0.75"/>
<text x="374.29" y="287.48" font-size="5.5" fill="#fff" font-weight="normal" text-anchor="middle" stroke="#fff" stroke-width="0.06">50.9%</text>
<text x="374.29" y="216.99" font-size="5.5" fill="#1a1a1a" font-weight="normal" text-anchor="middle" stroke="#1a1a1a" stroke-width="0.1">8.4%</text>
<text x="374.29" y="197.73" font-size="5.5" fill="#fff" font-weight="normal" text-anchor="middle" stroke="#fff" stroke-width="0.06">7.9%</text>
<text x="374.29" y="178.23" font-size="5.5" fill="#1a1a1a" font-weight="normal" text-anchor="middle" stroke="#1a1a1a" stroke-width="0.1">8.6%</text>
<text x="374.29" y="149.07" font-size="5.5" fill="#fff" font-weight="normal" text-anchor="middle" stroke="#fff" stroke-width="0.06">16.0%</text>
<text x="374.29" y="117.22" font-size="5.5" fill="#1a1a1a" font-weight="normal" text-anchor="middle" stroke="#1a1a1a" stroke-width="0.1">5.3%</text>
<text x="374.69" y="353.20" font-size="5.5" fill="#222" font-weight="normal" text-anchor="middle" stroke="#222" stroke-width="0.15">2018-19</text>
<rect x="389.92" y="224.96" width="22.1" height="120.24" fill="#9C755F" stroke="rgba(20,20,20,0.62)" stroke-width="0.75"/>
<rect x="389.92" y="224.87" width="22.1" height="0.09" fill="#B07AA1" stroke="rgba(20,20,20,0.62)" stroke-width="0.75"/>
<rect x="389.92" y="224.73" width="22.1" height="0.14" fill="#F1CE63" stroke="rgba(20,20,20,0.62)" stroke-width="0.75"/>
<rect x="389.92" y="205.83" width="22.1" height="18.90" fill="#EDC948" stroke="rgba(20,20,20,0.62)" stroke-width="0.75"/>
<rect x="389.92" y="187.29" width="22.1" height="18.55" fill="#59A14F" stroke="rgba(20,20,20,0.62)" stroke-width="0.75"/>
<rect x="389.92" y="165.95" width="22.1" height="21.34" fill="#76B7B2" stroke="rgba(20,20,20,0.62)" stroke-width="0.75"/>
<rect x="389.92" y="126.87" width="22.1" height="39.08" fill="#E15759" stroke="rgba(20,20,20,0.62)" stroke-width="0.75"/>
<rect x="389.92" y="126.46" width="22.1" height="0.41" fill="#F28E2B" stroke="rgba(20,20,20,0.62)" stroke-width="0.75"/>
<rect x="389.92" y="120.38" width="22.1" height="6.09" fill="#4E79A7" stroke="rgba(20,20,20,0.62)" stroke-width="0.75"/>
<rect x="389.92" y="108.40" width="22.1" height="11.98" fill="#BAB0AC" stroke="rgba(20,20,20,0.62)" stroke-width="0.75"/>
<text x="400.57" y="287.68" font-size="5.5" fill="#fff" font-weight="normal" text-anchor="middle" stroke="#fff" stroke-width="0.06">50.8%</text>
<text x="400.57" y="217.88" font-size="5.5" fill="#1a1a1a" font-weight="normal" text-anchor="middle" stroke="#1a1a1a" stroke-width="0.1">8.0%</text>
<text x="400.57" y="199.16" font-size="5.5" fill="#fff" font-weight="normal" text-anchor="middle" stroke="#fff" stroke-width="0.06">7.8%</text>
<text x="400.57" y="179.22" font-size="5.5" fill="#1a1a1a" font-weight="normal" text-anchor="middle" stroke="#1a1a1a" stroke-width="0.1">9.0%</text>
<text x="400.57" y="149.01" font-size="5.5" fill="#fff" font-weight="normal" text-anchor="middle" stroke="#fff" stroke-width="0.06">16.5%</text>
<text x="400.57" y="116.99" font-size="5.5" fill="#1a1a1a" font-weight="normal" text-anchor="middle" stroke="#1a1a1a" stroke-width="0.1">5.1%</text>
<text x="400.97" y="353.20" font-size="5.5" fill="#222" font-weight="normal" text-anchor="middle" stroke="#222" stroke-width="0.15">2019-20</text>
<rect x="416.20" y="226.46" width="22.1" height="118.74" fill="#9C755F" stroke="rgba(20,20,20,0.62)" stroke-width="0.75"/>
<rect x="416.20" y="226.37" width="22.1" height="0.09" fill="#B07AA1" stroke="rgba(20,20,20,0.62)" stroke-width="0.75"/>
<rect x="416.20" y="226.23" width="22.1" height="0.14" fill="#F1CE63" stroke="rgba(20,20,20,0.62)" stroke-width="0.75"/>
<rect x="416.20" y="209.00" width="22.1" height="17.23" fill="#EDC948" stroke="rgba(20,20,20,0.62)" stroke-width="0.75"/>
<rect x="416.20" y="189.33" width="22.1" height="19.67" fill="#59A14F" stroke="rgba(20,20,20,0.62)" stroke-width="0.75"/>
<rect x="416.20" y="167.91" width="22.1" height="21.41" fill="#76B7B2" stroke="rgba(20,20,20,0.62)" stroke-width="0.75"/>
<rect x="416.20" y="127.90" width="22.1" height="40.01" fill="#E15759" stroke="rgba(20,20,20,0.62)" stroke-width="0.75"/>
<rect x="416.20" y="127.50" width="22.1" height="0.40" fill="#F28E2B" stroke="rgba(20,20,20,0.62)" stroke-width="0.75"/>
<rect x="416.20" y="120.61" width="22.1" height="6.89" fill="#4E79A7" stroke="rgba(20,20,20,0.62)" stroke-width="0.75"/>
<rect x="416.20" y="108.40" width="22.1" height="12.21" fill="#BAB0AC" stroke="rgba(20,20,20,0.62)" stroke-width="0.75"/>
<text x="426.85" y="288.43" font-size="5.5" fill="#fff" font-weight="normal" text-anchor="middle" stroke="#fff" stroke-width="0.06">50.1%</text>
<text x="426.85" y="220.21" font-size="5.5" fill="#1a1a1a" font-weight="normal" text-anchor="middle" stroke="#1a1a1a" stroke-width="0.1">7.3%</text>
<text x="426.85" y="201.76" font-size="5.5" fill="#fff" font-weight="normal" text-anchor="middle" stroke="#fff" stroke-width="0.06">8.3%</text>
<text x="426.85" y="181.22" font-size="5.5" fill="#1a1a1a" font-weight="normal" text-anchor="middle" stroke="#1a1a1a" stroke-width="0.1">9.0%</text>
<text x="426.85" y="150.51" font-size="5.5" fill="#fff" font-weight="normal" text-anchor="middle" stroke="#fff" stroke-width="0.06">16.9%</text>
<text x="426.85" y="117.10" font-size="5.5" fill="#1a1a1a" font-weight="normal" text-anchor="middle" stroke="#1a1a1a" stroke-width="0.1">5.2%</text>
<text x="427.25" y="353.20" font-size="5.5" fill="#222" font-weight="normal" text-anchor="middle" stroke="#222" stroke-width="0.15">2020-21</text>
<rect x="442.48" y="227.84" width="22.1" height="117.36" fill="#9C755F" stroke="rgba(20,20,20,0.62)" stroke-width="0.75"/>
<rect x="442.48" y="227.75" width="22.1" height="0.09" fill="#B07AA1" stroke="rgba(20,20,20,0.62)" stroke-width="0.75"/>
<rect x="442.48" y="227.60" width="22.1" height="0.14" fill="#F1CE63" stroke="rgba(20,20,20,0.62)" stroke-width="0.75"/>
<rect x="442.48" y="210.73" width="22.1" height="16.88" fill="#EDC948" stroke="rgba(20,20,20,0.62)" stroke-width="0.75"/>
<rect x="442.48" y="190.81" width="22.1" height="19.92" fill="#59A14F" stroke="rgba(20,20,20,0.62)" stroke-width="0.75"/>
<rect x="442.48" y="169.39" width="22.1" height="21.41" fill="#76B7B2" stroke="rgba(20,20,20,0.62)" stroke-width="0.75"/>
<rect x="442.48" y="127.87" width="22.1" height="41.52" fill="#E15759" stroke="rgba(20,20,20,0.62)" stroke-width="0.75"/>
<rect x="442.48" y="127.46" width="22.1" height="0.41" fill="#F28E2B" stroke="rgba(20,20,20,0.62)" stroke-width="0.75"/>
<rect x="442.48" y="119.60" width="22.1" height="7.86" fill="#4E79A7" stroke="rgba(20,20,20,0.62)" stroke-width="0.75"/>
<rect x="442.48" y="108.40" width="22.1" height="11.20" fill="#BAB0AC" stroke="rgba(20,20,20,0.62)" stroke-width="0.75"/>
<text x="453.13" y="289.12" font-size="5.5" fill="#fff" font-weight="normal" text-anchor="middle" stroke="#fff" stroke-width="0.06">49.6%</text>
<text x="453.13" y="221.77" font-size="5.5" fill="#1a1a1a" font-weight="normal" text-anchor="middle" stroke="#1a1a1a" stroke-width="0.1">7.1%</text>
<text x="453.13" y="203.37" font-size="5.5" fill="#fff" font-weight="normal" text-anchor="middle" stroke="#fff" stroke-width="0.06">8.4%</text>
<text x="453.13" y="182.70" font-size="5.5" fill="#1a1a1a" font-weight="normal" text-anchor="middle" stroke="#1a1a1a" stroke-width="0.1">9.0%</text>
<text x="453.13" y="151.23" font-size="5.5" fill="#fff" font-weight="normal" text-anchor="middle" stroke="#fff" stroke-width="0.06">17.5%</text>
<text x="453.13" y="116.60" font-size="5.5" fill="#1a1a1a" font-weight="normal" text-anchor="middle" stroke="#1a1a1a" stroke-width="0.1">4.7%</text>
<text x="453.53" y="353.20" font-size="5.5" fill="#222" font-weight="normal" text-anchor="middle" stroke="#222" stroke-width="0.15">2021-22</text>
<rect x="468.76" y="229.73" width="22.1" height="115.47" fill="#9C755F" stroke="rgba(20,20,20,0.62)" stroke-width="0.75"/>
<rect x="468.76" y="229.64" width="22.1" height="0.10" fill="#B07AA1" stroke="rgba(20,20,20,0.62)" stroke-width="0.75"/>
<rect x="468.76" y="229.49" width="22.1" height="0.15" fill="#F1CE63" stroke="rgba(20,20,20,0.62)" stroke-width="0.75"/>
<rect x="468.76" y="214.16" width="22.1" height="15.32" fill="#EDC948" stroke="rgba(20,20,20,0.62)" stroke-width="0.75"/>
<rect x="468.76" y="192.25" width="22.1" height="21.91" fill="#59A14F" stroke="rgba(20,20,20,0.62)" stroke-width="0.75"/>
<rect x="468.76" y="170.11" width="22.1" height="22.14" fill="#76B7B2" stroke="rgba(20,20,20,0.62)" stroke-width="0.75"/>
<rect x="468.76" y="125.95" width="22.1" height="44.16" fill="#E15759" stroke="rgba(20,20,20,0.62)" stroke-width="0.75"/>
<rect x="468.76" y="125.53" width="22.1" height="0.43" fill="#F28E2B" stroke="rgba(20,20,20,0.62)" stroke-width="0.75"/>
<rect x="468.76" y="118.07" width="22.1" height="7.46" fill="#4E79A7" stroke="rgba(20,20,20,0.62)" stroke-width="0.75"/>
<rect x="468.76" y="108.40" width="22.1" height="9.67" fill="#BAB0AC" stroke="rgba(20,20,20,0.62)" stroke-width="0.75"/>
<text x="479.41" y="290.07" font-size="5.5" fill="#fff" font-weight="normal" text-anchor="middle" stroke="#fff" stroke-width="0.06">48.8%</text>
<text x="479.41" y="224.43" font-size="5.5" fill="#1a1a1a" font-weight="normal" text-anchor="middle" stroke="#1a1a1a" stroke-width="0.1">6.5%</text>
<text x="479.41" y="205.81" font-size="5.5" fill="#fff" font-weight="normal" text-anchor="middle" stroke="#fff" stroke-width="0.06">9.3%</text>
<text x="479.41" y="183.78" font-size="5.5" fill="#1a1a1a" font-weight="normal" text-anchor="middle" stroke="#1a1a1a" stroke-width="0.1">9.3%</text>
<text x="479.41" y="150.63" font-size="5.5" fill="#fff" font-weight="normal" text-anchor="middle" stroke="#fff" stroke-width="0.06">18.6%</text>
<text x="479.41" y="115.83" font-size="5.5" fill="#1a1a1a" font-weight="normal" text-anchor="middle" stroke="#1a1a1a" stroke-width="0.1">4.1%</text>
<text x="479.81" y="353.20" font-size="5.5" fill="#222" font-weight="normal" text-anchor="middle" stroke="#222" stroke-width="0.15">2022-23</text>
<rect x="495.04" y="231.35" width="22.1" height="113.85" fill="#9C755F" stroke="rgba(20,20,20,0.62)" stroke-width="0.75"/>
<rect x="495.04" y="231.22" width="22.1" height="0.13" fill="#B07AA1" stroke="rgba(20,20,20,0.62)" stroke-width="0.75"/>
<rect x="495.04" y="231.03" width="22.1" height="0.19" fill="#F1CE63" stroke="rgba(20,20,20,0.62)" stroke-width="0.75"/>
<rect x="495.04" y="216.39" width="22.1" height="14.64" fill="#EDC948" stroke="rgba(20,20,20,0.62)" stroke-width="0.75"/>
<rect x="495.04" y="194.11" width="22.1" height="22.28" fill="#59A14F" stroke="rgba(20,20,20,0.62)" stroke-width="0.75"/>
<rect x="495.04" y="171.33" width="22.1" height="22.78" fill="#76B7B2" stroke="rgba(20,20,20,0.62)" stroke-width="0.75"/>
<rect x="495.04" y="126.47" width="22.1" height="44.86" fill="#E15759" stroke="rgba(20,20,20,0.62)" stroke-width="0.75"/>
<rect x="495.04" y="125.92" width="22.1" height="0.55" fill="#F28E2B" stroke="rgba(20,20,20,0.62)" stroke-width="0.75"/>
<rect x="495.04" y="116.92" width="22.1" height="8.99" fill="#4E79A7" stroke="rgba(20,20,20,0.62)" stroke-width="0.75"/>
<rect x="495.04" y="108.40" width="22.1" height="8.52" fill="#BAB0AC" stroke="rgba(20,20,20,0.62)" stroke-width="0.75"/>
<text x="505.69" y="290.87" font-size="5.5" fill="#fff" font-weight="normal" text-anchor="middle" stroke="#fff" stroke-width="0.06">48.1%</text>
<text x="505.69" y="226.31" font-size="5.5" fill="#1a1a1a" font-weight="normal" text-anchor="middle" stroke="#1a1a1a" stroke-width="0.1">6.2%</text>
<text x="505.69" y="207.85" font-size="5.5" fill="#fff" font-weight="normal" text-anchor="middle" stroke="#fff" stroke-width="0.06">9.4%</text>
<text x="505.69" y="185.32" font-size="5.5" fill="#1a1a1a" font-weight="normal" text-anchor="middle" stroke="#1a1a1a" stroke-width="0.1">9.6%</text>
<text x="505.69" y="151.50" font-size="5.5" fill="#fff" font-weight="normal" text-anchor="middle" stroke="#fff" stroke-width="0.06">18.9%</text>
<text x="505.69" y="124.02" font-size="5.5" fill="#fff" font-weight="normal" text-anchor="middle" stroke="#fff" stroke-width="0.06">3.5%</text>
<text x="505.69" y="115.26" font-size="5.5" fill="#1a1a1a" font-weight="normal" text-anchor="middle" stroke="#1a1a1a" stroke-width="0.1">3.6%</text>
<text x="506.09" y="353.20" font-size="5.5" fill="#222" font-weight="normal" text-anchor="middle" stroke="#222" stroke-width="0.15">2023-24</text>
<rect x="521.32" y="236.23" width="22.1" height="108.97" fill="#9C755F" stroke="rgba(20,20,20,0.62)" stroke-width="0.75"/>
<rect x="521.32" y="236.06" width="22.1" height="0.18" fill="#B07AA1" stroke="rgba(20,20,20,0.62)" stroke-width="0.75"/>
<rect x="521.32" y="235.79" width="22.1" height="0.26" fill="#F1CE63" stroke="rgba(20,20,20,0.62)" stroke-width="0.75"/>
<rect x="521.32" y="221.10" width="22.1" height="14.69" fill="#EDC948" stroke="rgba(20,20,20,0.62)" stroke-width="0.75"/>
<rect x="521.32" y="197.49" width="22.1" height="23.61" fill="#59A14F" stroke="rgba(20,20,20,0.62)" stroke-width="0.75"/>
<rect x="521.32" y="173.96" width="22.1" height="23.54" fill="#76B7B2" stroke="rgba(20,20,20,0.62)" stroke-width="0.75"/>
<rect x="521.32" y="128.04" width="22.1" height="45.92" fill="#E15759" stroke="rgba(20,20,20,0.62)" stroke-width="0.75"/>
<rect x="521.32" y="127.26" width="22.1" height="0.77" fill="#F28E2B" stroke="rgba(20,20,20,0.62)" stroke-width="0.75"/>
<rect x="521.32" y="116.46" width="22.1" height="10.81" fill="#4E79A7" stroke="rgba(20,20,20,0.62)" stroke-width="0.75"/>
<rect x="521.32" y="108.40" width="22.1" height="8.06" fill="#BAB0AC" stroke="rgba(20,20,20,0.62)" stroke-width="0.75"/>
<text x="531.97" y="293.32" font-size="5.5" fill="#fff" font-weight="normal" text-anchor="middle" stroke="#fff" stroke-width="0.06">46.0%</text>
<text x="531.97" y="231.05" font-size="5.5" fill="#1a1a1a" font-weight="normal" text-anchor="middle" stroke="#1a1a1a" stroke-width="0.1">6.2%</text>
<text x="531.97" y="211.90" font-size="5.5" fill="#fff" font-weight="normal" text-anchor="middle" stroke="#fff" stroke-width="0.06">10.0%</text>
<text x="531.97" y="188.33" font-size="5.5" fill="#1a1a1a" font-weight="normal" text-anchor="middle" stroke="#1a1a1a" stroke-width="0.1">9.9%</text>
<text x="531.97" y="153.60" font-size="5.5" fill="#fff" font-weight="normal" text-anchor="middle" stroke="#fff" stroke-width="0.06">19.4%</text>
<text x="531.97" y="124.46" font-size="5.5" fill="#fff" font-weight="normal" text-anchor="middle" stroke="#fff" stroke-width="0.06">4.1%</text>
<text x="532.37" y="353.20" font-size="5.5" fill="#222" font-weight="normal" text-anchor="middle" stroke="#222" stroke-width="0.15">2024-25</text>
<text x="601.70" y="77.80" font-size="6.5" fill="#222" font-weight="bold" text-anchor="start" textLength="42.30" lengthAdjust="spacingAndGlyphs" stroke="#222" stroke-width="0.05">Color Legend</text>
<rect x="568.3" y="81.20" width="5.4" height="5.2" fill="#9C755F" stroke="#555" stroke-width="0.6"/>
<text x="576.80" y="85.80" font-size="5.5" fill="#2a2a2a" font-weight="normal" text-anchor="start" stroke="#2a2a2a" stroke-width="0.1">White</text>
<rect x="568.3" y="89.75" width="5.4" height="5.2" fill="#B07AA1" stroke="#555" stroke-width="0.6"/>
<text x="576.80" y="94.35" font-size="5.5" fill="#2a2a2a" font-weight="normal" text-anchor="start" stroke="#2a2a2a" stroke-width="0.1">Native Hawaiian</text>
<rect x="568.3" y="98.30" width="5.4" height="5.2" fill="#F1CE63" stroke="#555" stroke-width="0.6"/>
<text x="576.80" y="102.90" font-size="5.5" fill="#2a2a2a" font-weight="normal" text-anchor="start" stroke="#2a2a2a" stroke-width="0.1">Middle Eastern or North African</text>
<rect x="568.3" y="106.85" width="5.4" height="5.2" fill="#EDC948" stroke="#555" stroke-width="0.6"/>
<text x="576.80" y="111.45" font-size="5.5" fill="#2a2a2a" font-weight="normal" text-anchor="start" stroke="#2a2a2a" stroke-width="0.1">International (Non-Resident Alien)</text>
<rect x="568.3" y="115.40" width="5.4" height="5.2" fill="#59A14F" stroke="#555" stroke-width="0.6"/>
<text x="576.80" y="120.00" font-size="5.5" fill="#2a2a2a" font-weight="normal" text-anchor="start" stroke="#2a2a2a" stroke-width="0.1">Hispanic/Latino</text>
<rect x="568.3" y="123.95" width="5.4" height="5.2" fill="#76B7B2" stroke="#555" stroke-width="0.6"/>
<text x="576.80" y="128.55" font-size="5.5" fill="#2a2a2a" font-weight="normal" text-anchor="start" stroke="#2a2a2a" stroke-width="0.1">Black or African American</text>
<rect x="568.3" y="132.50" width="5.4" height="5.2" fill="#E15759" stroke="#555" stroke-width="0.6"/>
<text x="576.80" y="137.10" font-size="5.5" fill="#2a2a2a" font-weight="normal" text-anchor="start" stroke="#2a2a2a" stroke-width="0.1">Asian</text>
<rect x="568.3" y="141.05" width="5.4" height="5.2" fill="#F28E2B" stroke="#555" stroke-width="0.6"/>
<text x="576.80" y="145.65" font-size="5.5" fill="#2a2a2a" font-weight="normal" text-anchor="start" stroke="#2a2a2a" stroke-width="0.1">American Indian or Alaska Native</text>
<rect x="568.3" y="149.60" width="5.4" height="5.2" fill="#4E79A7" stroke="#555" stroke-width="0.6"/>
<text x="576.80" y="154.20" font-size="5.5" fill="#2a2a2a" font-weight="normal" text-anchor="start" stroke="#2a2a2a" stroke-width="0.1">2 or more races</text>
<rect x="568.3" y="158.15" width="5.4" height="5.2" fill="#BAB0AC" stroke="#555" stroke-width="0.6"/>
<text x="576.80" y="162.75" font-size="5.5" fill="#2a2a2a" font-weight="normal" text-anchor="start" stroke="#2a2a2a" stroke-width="0.1">Unknown</text>
<text x="10.00" y="370.00" font-size="6.5" fill="#111" font-weight="bold" text-anchor="start" textLength="147.50" lengthAdjust="spacingAndGlyphs" stroke="#111" stroke-width="0.12">Produced by the UB Institutional Analytics Team</text>
<text x="10.00" y="378.90" font-size="5.9" fill="#1b7ac8" font-weight="bold" text-anchor="start" textLength="143.00" lengthAdjust="spacingAndGlyphs" stroke="#1b7ac8" stroke-width="0.1">For questions, CLICK HERE to send email to the team.</text>
<path d="M174.2 367.6L181.3 374.7M181.3 367.6L174.2 374.7" stroke="#444" stroke-width="1.1"/>
<text x="186.10" y="369.70" font-size="5.8" fill="#e8404a" font-weight="bold" text-anchor="start" textLength="19.60" lengthAdjust="spacingAndGlyphs" stroke="#e8404a" stroke-width="0.05">*NOTE*</text>
<text x="207.60" y="369.70" font-size="5.9" fill="#333" font-weight="normal" text-anchor="start" textLength="294.60" lengthAdjust="spacingAndGlyphs" stroke="#333" stroke-width="0.1">The underlying dataset recently underwent intensive optimization to improve data insights. As a result, you may</text>
<text x="186.10" y="377.50" font-size="5.9" fill="#333" font-weight="normal" text-anchor="start" textLength="298.40" lengthAdjust="spacingAndGlyphs" stroke="#333" stroke-width="0.1">notice minor variations in headcounts within breakdowns compared with any snapshots taken prior to 9/15/2023.</text>
<text x="566.1" y="356.4" font-size="5.5" fill="#222" textLength="103" lengthAdjust="spacingAndGlyphs"><tspan font-weight="bold" stroke="#222" stroke-width="0.08">Quick Filters</tspan><tspan stroke="#333" stroke-width="0.12"> (Hover here for more info)</tspan></text>
<rect x="552.6" y="359.50" width="6.8" height="6.8" fill="#fff" stroke="#5a5a5a" stroke-width="0.8"/>
<text x="561.00" y="364.30" font-size="5.5" fill="#666a7a" font-weight="normal" text-anchor="start" stroke="#666a7a" stroke-width="0.08">Graduate</text>
<rect x="552.6" y="366.70" width="6.8" height="6.8" fill="#fff" stroke="#5a5a5a" stroke-width="0.8"/>
<text x="561.00" y="371.70" font-size="5.5" fill="#666a7a" font-weight="normal" text-anchor="start" stroke="#666a7a" stroke-width="0.08">Professional</text>
<rect x="552.6" y="373.90" width="6.8" height="6.8" fill="#fff" stroke="#5a5a5a" stroke-width="0.8"/>
<path d="M554.8 377.70L555.5 378.40L557.4 376.20" fill="none" stroke="#222" stroke-width="1"/>
<text x="561.00" y="379.10" font-size="5.5" fill="#666a7a" font-weight="normal" text-anchor="start" stroke="#666a7a" stroke-width="0.08">Undergraduate</text>
<rect x="607" y="359.50" width="6.8" height="6.8" fill="#fff" stroke="#5a5a5a" stroke-width="0.8"/>
<path d="M609.2 363.30L609.9 364.00L611.8 361.80" fill="none" stroke="#222" stroke-width="1"/>
<text x="615.10" y="364.30" font-size="5.5" fill="#666a7a" font-weight="normal" text-anchor="start" stroke="#666a7a" stroke-width="0.08">Continuing</text>
<rect x="607" y="366.70" width="6.8" height="6.8" fill="#fff" stroke="#5a5a5a" stroke-width="0.8"/>
<path d="M609.2 370.50L609.9 371.20L611.8 369.00" fill="none" stroke="#222" stroke-width="1"/>
<text x="615.10" y="371.70" font-size="5.5" fill="#666a7a" font-weight="normal" text-anchor="start" stroke="#666a7a" stroke-width="0.08">New</text>
<circle cx="651.8" cy="362.80" r="3.3" fill="#fff" stroke="#555" stroke-width="0.6"/>
<circle cx="651.8" cy="362.80" r="1.9" fill="#222"/>
<text x="657.00" y="364.20" font-size="5.5" fill="#666a7a" font-weight="normal" text-anchor="start" stroke="#666a7a" stroke-width="0.08">Fall</text>
<circle cx="651.8" cy="369.90" r="3.3" fill="#fff" stroke="#555" stroke-width="0.6"/>
<text x="657.00" y="371.60" font-size="5.5" fill="#666a7a" font-weight="normal" text-anchor="start" stroke="#666a7a" stroke-width="0.08">Spring</text>
</svg>
</body></html>
